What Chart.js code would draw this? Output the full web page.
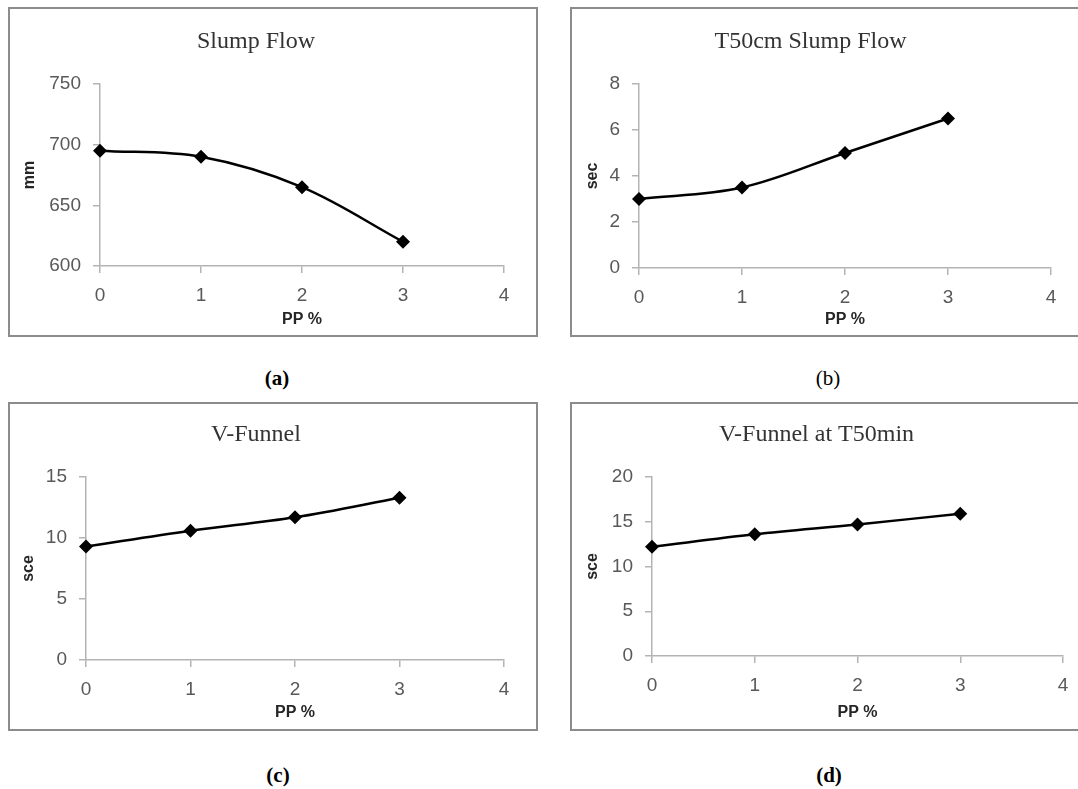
<!DOCTYPE html>
<html>
<head>
<meta charset="utf-8">
<script src="https://cdn.jsdelivr.net/npm/chart.js@4"></script>
<style>
  html, body { margin: 0; padding: 0; background: #fff; }
  body { width: 1078px; height: 789px; position: relative; overflow: hidden; }
  .box { position: absolute; box-sizing: border-box; border: 2px solid #8c8c8c; }
  .box canvas { position: absolute; left: -2px; top: -2px; }
  .cap { position: absolute; transform: translate(-50%, -50%); font-family: "Liberation Serif", "Times New Roman", serif; font-size: 21px; color: #000; white-space: nowrap; }
</style>
</head>
<body>
<div class="box" id="boxA"><canvas id="cA"></canvas></div>
<div class="box" id="boxB"><canvas id="cB"></canvas></div>
<div class="box" id="boxC"><canvas id="cC"></canvas></div>
<div class="box" id="boxD"><canvas id="cD"></canvas></div>
<div class="cap" style="left:277px; top:378px; font-weight:bold;">(a)</div>
<div class="cap" style="left:828px; top:378px;">(b)</div>
<div class="cap" style="left:278px; top:775px; font-weight:bold;">(c)</div>
<div class="cap" style="left:829px; top:775px; font-weight:bold;">(d)</div>
<script>
// ---- data ----
const ppPercent = [0, 1, 2, 3];
const slumpFlow = [695, 690, 665, 620];
const t50SlumpFlow = [3.0, 3.5, 5.0, 6.5];
const vFunnel = [9.3, 10.6, 11.7, 13.3];
const vFunnelT50 = [12.2, 13.6, 14.7, 15.9];
const xTicks = [0, 1, 2, 3, 4];
const titles = ["Slump Flow", "T50cm Slump Flow", "V-Funnel", "V-Funnel at T50min"];
const yTitles = ["mm", "sec", "sce", "sce"];
const xTitle = "PP %";
const yRanges = [[600, 750, 50], [0, 8, 2], [0, 15, 5], [0, 20, 5]];

// ---- layout (page pixels) ----
const layouts = [
  { id: "A", box: [8, 7, 530, 330], ca: [100, 504, 84, 266], titleY: 42, yTitleX: 30, xTitleY: 320 },
  { id: "B", box: [570, 7, 520, 330], ca: [639, 1051, 84, 268], titleY: 42, yTitleX: 593, xTitleY: 320 },
  { id: "C", box: [8, 402, 530, 329], ca: [86, 504, 477, 660], titleY: 435, yTitleX: 29, xTitleY: 713 },
  { id: "D", box: [570, 402, 520, 329], ca: [652, 1063, 477, 656], titleY: 435, yTitleX: 593, xTitleY: 713 }
];
const series = [slumpFlow, t50SlumpFlow, vFunnel, vFunnelT50];

const axisColor = "#b4b4b4";
const tickFont = { family: "'Liberation Sans', Arial, sans-serif", size: 19 };
const axisTitleFont = { family: "'Liberation Sans', Arial, sans-serif", size: 16, weight: "bold", lineHeight: 1.2 };
const titleFontSize = 24;

layouts.forEach((L, i) => {
  const [bx, by, bw, bh] = L.box;
  const boxEl = document.getElementById("box" + L.id);
  boxEl.style.left = bx + "px"; boxEl.style.top = by + "px";
  boxEl.style.width = bw + "px"; boxEl.style.height = bh + "px";
  const cv = document.getElementById("c" + L.id);
  cv.width = bw; cv.height = bh;
  cv.style.width = bw + "px"; cv.style.height = bh + "px";

  const [caL, caR, caT, caB] = L.ca;
  const titleLH = titleFontSize * 1.2;
  const titlePadTop = (L.titleY - by) - titleLH / 2;
  const titlePadBottom = (caT - by) - titlePadTop - titleLH;
  const yAxisW = caL - bx;
  const xAxisH = (by + bh) - caB;
  const yTitlePad = (L.yTitleX - bx) - axisTitleFont.size * 1.2 / 2;
  const xTitlePad = (by + bh - L.xTitleY) - axisTitleFont.size * 1.2 / 2;
  const [ymin, ymax, ystep] = yRanges[i];

  new Chart(cv, {
    type: "line",
    data: {
      datasets: [{
        data: ppPercent.map((x, k) => ({ x: x, y: series[i][k] })),
        borderColor: "#000",
        backgroundColor: "#000",
        borderWidth: 2.5,
        tension: 0.35,
        pointStyle: "rectRot",
        pointRadius: 7,
        pointBorderWidth: 0,
        fill: false,
        clip: false
      }]
    },
    options: {
      responsive: false,
      animation: false,
      layout: { padding: { left: 0, top: 0, bottom: 0, right: (bx + bw) - caR } },
      plugins: {
        legend: { display: false },
        tooltip: { enabled: false },
        title: {
          display: true,
          text: titles[i],
          color: "#333",
          font: { family: "'Liberation Serif', 'Times New Roman', serif", size: titleFontSize, weight: "normal", lineHeight: 1.2 },
          padding: { top: titlePadTop, bottom: titlePadBottom }
        }
      },
      scales: {
        x: {
          type: "linear",
          min: xTicks[0], max: xTicks[xTicks.length - 1],
          afterBuildTicks: (s) => { s.ticks = xTicks.map(v => ({ value: v })); },
          afterFit: (s) => { s.height = xAxisH; },
          grid: { display: true, drawOnChartArea: false, drawTicks: true, tickLength: 7, color: axisColor, lineWidth: 1.5 },
          border: { display: true, color: axisColor, width: 1.5 },
          ticks: { color: "#595959", font: tickFont, padding: 11, maxRotation: 0 },
          title: { display: true, text: xTitle, color: "#262626", font: axisTitleFont, padding: { top: 0, bottom: xTitlePad } }
        },
        y: {
          min: ymin, max: ymax,
          ticks: { stepSize: ystep, color: "#595959", font: tickFont, padding: 12 },
          afterFit: (s) => { s.width = yAxisW; },
          grid: { display: true, drawOnChartArea: false, drawTicks: true, tickLength: 7, color: axisColor, lineWidth: 1.5 },
          border: { display: true, color: axisColor, width: 1.5 },
          title: { display: true, text: yTitles[i], color: "#262626", font: axisTitleFont, padding: { top: yTitlePad, bottom: 0 } }
        }
      }
    }
  });
});
</script>
</body>
</html>
